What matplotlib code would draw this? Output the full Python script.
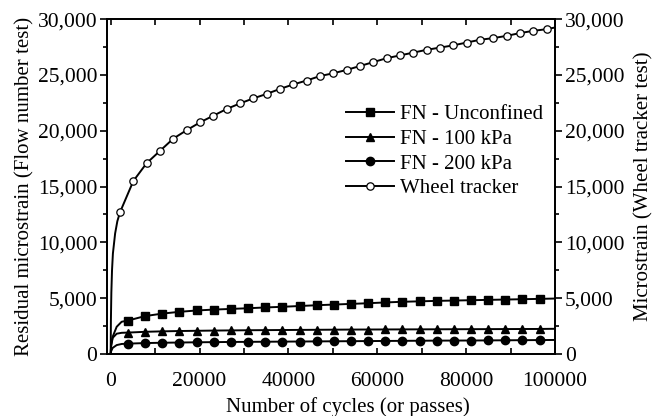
import matplotlib
matplotlib.use("Agg")
import matplotlib.pyplot as plt
from matplotlib.ticker import MultipleLocator, FuncFormatter

plt.rcParams['font.family'] = ['Liberation Serif', 'DejaVu Serif']
plt.rcParams['mathtext.fontset'] = 'stix'

# flow number tests: early rise, then one marker every sampled cycle count
fn_early = [0, 100, 450, 1350, 2470]
fn_marks = [3900, 7760, 11620, 15480, 19340, 23200, 27060, 30920, 34780, 38640,
            42500, 46360, 50220, 54080, 57940, 61800, 65660, 69520, 73380, 77240,
            81100, 84960, 88820, 92680, 96540]
fn_end = [100000]

unconf_early = [0, 800, 1550, 2440, 2890]
unconf_marks = [3000, 3400, 3620, 3780, 3900, 3980, 4040, 4100, 4170, 4230,
                4300, 4370, 4430, 4490, 4550, 4620, 4680, 4720, 4760, 4790,
                4820, 4850, 4880, 4910, 4940]
unconf_end = [4970]

kpa100_early = [0, 700, 1450, 1820, 1900]
kpa100_marks = [1920, 1990, 2030, 2060, 2080, 2100, 2115, 2130, 2140, 2150,
                2160, 2170, 2180, 2190, 2195, 2200, 2205, 2210, 2215, 2220,
                2225, 2230, 2235, 2240, 2245]
kpa100_end = [2260]

kpa200_early = [0, 250, 550, 800, 900]
kpa200_marks = [930, 980, 1010, 1030, 1050, 1065, 1080, 1090, 1100, 1110,
                1120, 1130, 1140, 1150, 1160, 1170, 1180, 1190, 1200, 1205,
                1210, 1220, 1230, 1240, 1250]
kpa200_end = [1260]

# wheel tracker test (passes)
wt_early = [0, 50, 150, 300, 500, 1000, 1500]
wt_marks = [2100, 5100, 8100, 11100, 14100, 17100, 20100, 23100, 26100, 29100,
            32100, 35100, 38100, 41100, 44100, 47100, 50100, 53100, 56100, 59100,
            62100, 65100, 68100, 71100, 74100, 77100, 80100, 83100, 86100, 89100,
            92100, 95100, 98100]
wt_end = [100000]
wt_early_strain = [0, 3000, 5500, 7500, 9000, 10800, 11900]
wt_marks_strain = [12700, 15500, 17100, 18200, 19300, 20050, 20750, 21350, 21950, 22450,
                   22900, 23300, 23750, 24150, 24500, 24900, 25150, 25450, 25800, 26150,
                   26500, 26750, 27000, 27250, 27450, 27650, 27900, 28150, 28300, 28500,
                   28750, 28950, 29100]
wt_end_strain = [29250]

fn_x = fn_early + fn_marks + fn_end
wt_x = wt_early + wt_marks + wt_end
fn_every = slice(len(fn_early), len(fn_early) + len(fn_marks))
wt_every = slice(len(wt_early), len(wt_early) + len(wt_marks))

fig = plt.figure(figsize=(6.54, 4.16), dpi=100)
ax = fig.add_axes([0.1636, 0.149, 0.685, 0.805])
ax2 = ax.twinx()

lw = 1.4
l1, = ax.plot(fn_x, unconf_early + unconf_marks + unconf_end, color='k', lw=lw,
              marker='s', ms=5.5, markevery=fn_every, label='FN - Unconfined')
l2, = ax.plot(fn_x, kpa100_early + kpa100_marks + kpa100_end, color='k', lw=lw,
              marker='^', ms=6, markevery=fn_every, label='FN - 100 kPa')
l3, = ax.plot(fn_x, kpa200_early + kpa200_marks + kpa200_end, color='k', lw=lw,
              marker='o', ms=6, markevery=fn_every, label='FN - 200 kPa')
l4, = ax2.plot(wt_x, wt_early_strain + wt_marks_strain + wt_end_strain, color='k', lw=lw,
               marker='o', ms=5.3, mfc='white', mec='k', mew=0.9, markevery=wt_every,
               label='Wheel tracker')

for a in (ax, ax2):
    a.set_xlim(-830, 100000)
    a.set_ylim(0, 30000)
    a.yaxis.set_major_locator(MultipleLocator(5000))
    a.yaxis.set_minor_locator(MultipleLocator(2500))
    a.yaxis.set_major_formatter(FuncFormatter(lambda v, p: '{:,.0f}'.format(v)))
    for s in a.spines.values():
        s.set_linewidth(1.3)

ax.xaxis.set_major_locator(MultipleLocator(20000))
ax.xaxis.set_minor_locator(MultipleLocator(10000))
ax.xaxis.set_major_formatter(FuncFormatter(lambda v, p: '{:.0f}'.format(v)))
ax.tick_params(axis='x', which='both', direction='in', top=True, length=4, width=1.2,
               labelsize=15.5, pad=13)
ax.tick_params(axis='y', which='major', direction='out', length=5, width=1.2,
               labelsize=15.5, pad=2)
ax.tick_params(axis='y', which='minor', direction='out', length=3, width=1.2)
ax2.tick_params(axis='y', which='major', direction='out', length=5, width=1.2,
                labelsize=15.5, pad=2)
ax2.tick_params(axis='y', which='minor', direction='out', length=3, width=1.2)

ax.set_xlabel('Number of cycles (or passes)', fontsize=15)
ax.xaxis.set_label_coords(0.538, -0.128)
ax.set_ylabel('Residual microstrain (Flow number test)', fontsize=15, labelpad=2)
ax2.set_ylabel('Microstrain (Wheel tracker test)', fontsize=15, labelpad=7)

ax2.legend(handles=[l1, l2, l3, l4], loc='upper left', bbox_to_anchor=(0.515, 0.77),
           frameon=False, fontsize=15, handlelength=2.3, handletextpad=0.3,
           labelspacing=0.25, borderaxespad=0)

fig.savefig('out.png', dpi=100)
